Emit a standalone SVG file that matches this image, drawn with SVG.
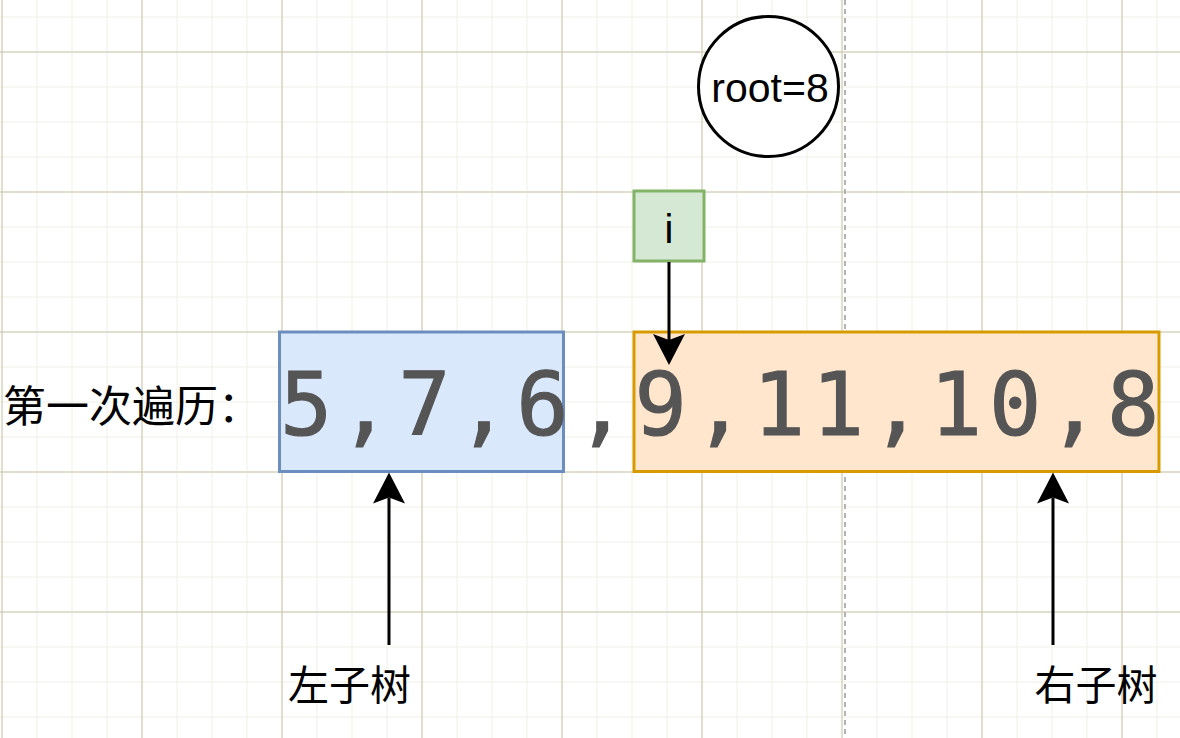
<svg xmlns="http://www.w3.org/2000/svg" width="1180" height="738" viewBox="0 0 1180 738">
  <style>
    .lbl { font-family: "Liberation Sans", Arial, sans-serif; fill: #000; }
    .cjk { font-family: "Noto Sans CJK SC", "Noto Sans", sans-serif; fill: #000; }
    .seq { font-family: "DejaVu Sans Mono", "Liberation Mono", monospace; fill: #555555; stroke: #555555; stroke-width: 1.2; font-size: 87px; letter-spacing: 6.7px; }
    .conn { stroke: #000; stroke-width: 3; fill: none; marker-end: url(#arr); }
  </style>
  <defs>
    <pattern id="minor" patternUnits="userSpaceOnUse" x="1.5" y="16.5" width="35" height="35">
      <path d="M0 0.5H35M0.5 0V35" stroke="#efefe6" stroke-width="1" fill="none"/>
    </pattern>
    <pattern id="major" patternUnits="userSpaceOnUse" x="1.5" y="51.5" width="140" height="140">
      <path d="M0 0.5H140M0.5 0V140" stroke="#c8c7ab" stroke-width="1" fill="none"/>
    </pattern>
    <marker id="arr" markerUnits="userSpaceOnUse" viewBox="0 0 32 32" refX="6" refY="16" markerWidth="32" markerHeight="32" orient="auto">
      <path d="M0 0 L31 16 L0 32 L6 16 Z" fill="#000"/>
    </marker>
  </defs>

  <g id="background">
    <rect width="1180" height="738" fill="#ffffff"/>
    <rect width="1180" height="738" fill="url(#minor)"/>
    <rect width="1180" height="738" fill="url(#major)"/>
    <line x1="845" y1="0" x2="845" y2="738" stroke="#b3b3b3" stroke-width="2" stroke-dasharray="5 4"/>
  </g>

  <g id="root-node">
    <circle cx="768.5" cy="86.5" r="70" fill="#ffffff" stroke="#000" stroke-width="3"/>
    <text class="lbl" x="770" y="102" font-size="41" text-anchor="middle">root=8</text>
  </g>

  <g id="i-node">
    <rect x="634" y="191" width="70" height="70" fill="#d5e8d4" stroke="#82b366" stroke-width="3"/>
    <text class="lbl" x="669" y="243" font-size="40" text-anchor="middle">i</text>
  </g>

  <g id="left-box">
    <rect x="279.5" y="332" width="284" height="139.5" fill="#dae8fc" stroke="#6c8ebf" stroke-width="3"/>
  </g>

  <g id="right-box">
    <rect x="634" y="332" width="525" height="139.5" fill="#ffe6cc" stroke="#d79b00" stroke-width="3"/>
  </g>

  <g id="sequence">
    <text class="seq" x="280" y="435">5,7,6,9,11,10,8</text>
  </g>

  <g id="title-label">
    <text class="cjk" x="3" y="422" font-size="43">第一次遍历：</text>
  </g>

  <g id="left-label">
    <text class="cjk" x="349.5" y="700" font-size="41" text-anchor="middle">左子树</text>
  </g>

  <g id="right-label">
    <text class="cjk" x="1096" y="700" font-size="41" text-anchor="middle">右子树</text>
  </g>

  <g id="connectors">
    <line class="conn" x1="669" y1="262" x2="669" y2="340"/>
    <line class="conn" x1="389" y1="645" x2="389" y2="497.5"/>
    <line class="conn" x1="1053" y1="645" x2="1053" y2="497.5"/>
  </g>
</svg>
